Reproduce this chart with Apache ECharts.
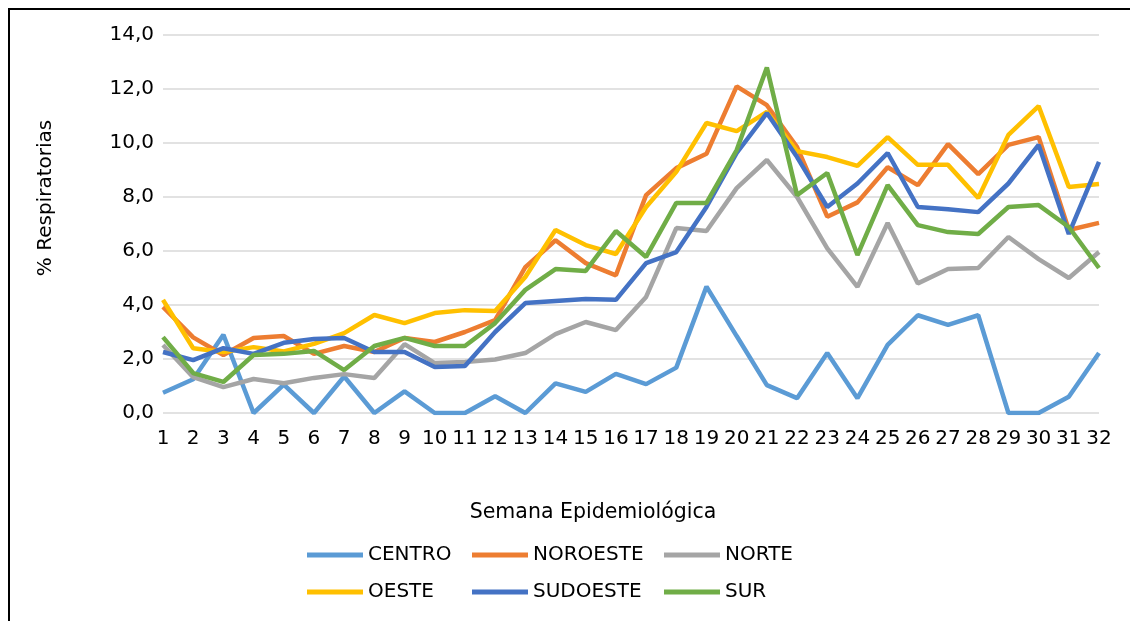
<!DOCTYPE html>
<html>
<head>
<meta charset="utf-8">
<script src="https://cdn.jsdelivr.net/npm/echarts@6/dist/echarts.min.js"></script>
<style>
  html, body { margin: 0; padding: 0; background: #fff; }
  #chart { width: 1130px; height: 621px; }
</style>
</head>
<body>
<div id="chart"></div>
<script>
const weeks = Array.from({ length: 32 }, (_, i) => String(i + 1))

const centro = [0.75, 1.25, 2.9, 0, 1.05, 0, 1.35, 0, 0.8, 0, 0, 0.62, 0, 1.1, 0.78, 1.45,
  1.07, 1.68, 4.68, 2.85, 1.03, 0.55, 2.22, 0.55, 2.52, 3.62, 3.26, 3.62, 0, 0, 0.6, 2.22]
const noroeste = [3.93, 2.8, 2.15, 2.78, 2.85, 2.19, 2.48, 2.26, 2.78, 2.63, 3.0, 3.44, 5.4, 6.4, 5.55, 5.1,
  8.07, 9.07, 9.6, 12.1, 11.4, 9.85, 7.27, 7.8, 9.1, 8.44, 9.96, 8.85, 9.93, 10.22, 6.78, 7.04]
const norte = [2.52, 1.33, 0.96, 1.26, 1.1, 1.3, 1.44, 1.3, 2.55, 1.85, 1.89, 1.98, 2.22, 2.92, 3.37, 3.07,
  4.3, 6.85, 6.74, 8.33, 9.37, 8.0, 6.1, 4.67, 7.04, 4.8, 5.33, 5.37, 6.52, 5.7, 5.0, 5.96]
const oeste = [4.19, 2.4, 2.26, 2.44, 2.28, 2.56, 2.96, 3.63, 3.33, 3.7, 3.81, 3.78, 5.04, 6.78, 6.22, 5.89,
  7.63, 8.93, 10.74, 10.44, 11.15, 9.7, 9.48, 9.15, 10.22, 9.19, 9.19, 7.96, 10.3, 11.37, 8.37, 8.48]
const sudoeste = [2.26, 1.96, 2.4, 2.19, 2.6, 2.74, 2.78, 2.26, 2.26, 1.7, 1.74, 3.0, 4.07, 4.15, 4.22, 4.19,
  5.55, 5.96, 7.63, 9.63, 11.11, 9.48, 7.63, 8.5, 9.63, 7.63, 7.55, 7.44, 8.5, 9.93, 6.63, 9.3]
const sur = [2.81, 1.48, 1.15, 2.15, 2.19, 2.3, 1.59, 2.48, 2.78, 2.48, 2.48, 3.33, 4.56, 5.33, 5.26, 6.74,
  5.78, 7.78, 7.78, 9.74, 12.8, 8.07, 8.89, 5.85, 8.44, 6.96, 6.7, 6.63, 7.63, 7.7, 6.89, 5.37]

const seriesNames = ['CENTRO', 'NOROESTE', 'NORTE', 'OESTE', 'SUDOESTE', 'SUR']
const seriesData = [centro, noroeste, norte, oeste, sudoeste, sur]
const colors = ['#5B9BD5', '#ED7D31', '#A5A5A5', '#FFC000', '#4472C4', '#70AD47']

const font = 'DejaVu Sans'
const chart = echarts.init(document.getElementById('chart'))

// leyenda en 3 columnas, como en Excel
function legendCol(left, names) {
  return {
    orient: 'vertical',
    left: left,
    top: 545,
    padding: 0,
    itemGap: 17,
    itemWidth: 56,
    itemHeight: 5,
    itemTextGap: 10,
    icon: 'rect',
    data: names,
    textStyle: { fontFamily: font, fontSize: 20, color: '#000' },
  }
}

chart.setOption({
  animation: false,
  color: colors,
  textStyle: { fontFamily: font },
  grid: { left: 163, right: 31, top: 35, bottom: 208 },
  graphic: [
    {
      type: 'rect',
      shape: { x: 9, y: 9, width: 1200, height: 700 },
      style: { fill: 'none', stroke: '#000', lineWidth: 2 },
      silent: true,
    },
    {
      type: 'text',
      x: 593, y: 513,
      style: { text: 'Semana Epidemiológica', fontFamily: font, fontSize: 20.5, fill: '#000', align: 'center', verticalAlign: 'middle' },
    },
    {
      type: 'text',
      x: 46, y: 198,
      rotation: Math.PI / 2,
      style: { text: '% Respiratorias', fontFamily: font, fontSize: 20, fill: '#000', align: 'center', verticalAlign: 'middle' },
    },
  ],
  legend: [
    legendCol(307, ['CENTRO', 'OESTE']),
    legendCol(472, ['NOROESTE', 'SUDOESTE']),
    legendCol(664, ['NORTE', 'SUR']),
  ],
  xAxis: {
    type: 'category',
    data: weeks,
    boundaryGap: false,
    axisLine: { show: false },
    axisTick: { show: false },
    axisLabel: { color: '#000', fontSize: 20, fontFamily: font, margin: 16, interval: 0 },
  },
  yAxis: {
    type: 'value',
    min: 0,
    max: 14,
    interval: 2,
    axisLine: { show: false },
    axisTick: { show: false },
    axisLabel: {
      color: '#000', fontSize: 20, fontFamily: font, margin: 9,
      formatter: (v) => v.toFixed(1).replace('.', ','),
    },
    splitLine: { lineStyle: { color: '#D9D9D9', width: 1.5 } },
  },
  series: seriesNames.map((name, i) => ({
    name,
    type: 'line',
    data: seriesData[i],
    showSymbol: false,
    symbol: 'none',
    lineStyle: { width: 4.5, color: colors[i] },
    itemStyle: { color: colors[i] },
  })),
})
</script>
</body>
</html>
